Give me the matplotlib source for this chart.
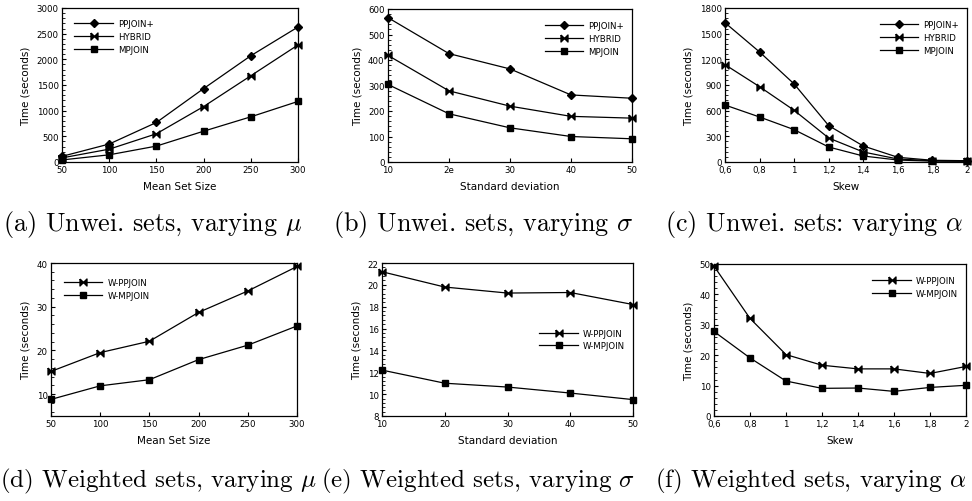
import numpy as np
import matplotlib
matplotlib.use("Agg")
import matplotlib.pyplot as plt
from matplotlib.ticker import AutoMinorLocator

plt.rcParams['font.family'] = ['DejaVu Sans']
plt.rcParams['mathtext.fontset'] = 'cm'

# (a) unweighted, mean set size
mu_x = [50, 100, 150, 200, 250, 300]
a_ppjoin = [110, 350, 770, 1430, 2070, 2630]
a_hybrid = [80, 250, 550, 1080, 1680, 2280]
a_mpjoin = [40, 140, 310, 600, 880, 1180]

# (b) unweighted, standard deviation
sd_x = [10, 20, 30, 40, 50]
sd_labels = ["10", "2e", "30", "40", "50"]
b_ppjoin = [566, 425, 365, 263, 250]
b_hybrid = [418, 279, 219, 179, 172]
b_mpjoin = [304, 189, 134, 100, 91]

# (c) unweighted, skew
sk_x = [0.6, 0.8, 1.0, 1.2, 1.4, 1.6, 1.8, 2.0]
sk_labels = ["0,6", "0,8", "1", "1,2", "1,4", "1,6", "1,8", "2"]
c_ppjoin = [1628, 1286, 912, 425, 187, 55, 20, 15]
c_hybrid = [1138, 880, 604, 280, 117, 35, 15, 12]
c_mpjoin = [666, 526, 378, 175, 70, 23, 10, 8]

# (d) weighted, mean set size
d_wppjoin = [15.2, 19.5, 22.1, 28.7, 33.6, 39.2]
d_wmpjoin = [8.8, 11.9, 13.3, 17.9, 21.2, 25.6]

# (e) weighted, standard deviation
e_labels = ["10", "20", "30", "40", "50"]
e_wppjoin = [21.2, 19.8, 19.25, 19.3, 18.2]
e_wmpjoin = [12.2, 11.0, 10.65, 10.1, 9.5]

# (f) weighted, skew
f_wppjoin = [49.3, 32.1, 20.2, 16.7, 15.5, 15.5, 14.0, 16.3]
f_wmpjoin = [27.8, 19.1, 11.5, 9.1, 9.2, 8.1, 9.4, 10.1]

captions = [
    r"(a) Unwei. sets, varying $\mu$",
    r"(b) Unwei. sets, varying $\sigma$",
    r"(c) Unwei. sets: varying $\alpha$",
    r"(d) Weighted sets, varying $\mu$",
    r"(e) Weighted sets, varying $\sigma$",
    r"(f) Weighted sets, varying $\alpha$",
]

W, H = 972, 502
fig = plt.figure(figsize=(W / 100, H / 100), dpi=100)

def px_axes(x0, y0, x1, y1):
    return fig.add_axes([x0 / W, 1 - y1 / H, (x1 - x0) / W, (y1 - y0) / H])

# bowtie marker for HYBRID
bowtie = [(-1, 1), (0, 0), (1, 1), (1, -1), (0, 0), (-1, -1), (-1, 1)]

def style(ax, xlabel):
    ax.set_xlabel(xlabel, fontsize=7.5, labelpad=5)
    ax.set_ylabel("Time (seconds)", fontsize=7.5, labelpad=4)
    ax.tick_params(labelsize=6.2, direction='in', length=3, width=0.8, pad=2.5)
    ax.tick_params(which='minor', direction='in', length=1.8, width=0.6)
    ax.yaxis.set_minor_locator(AutoMinorLocator(5))
    for s in ax.spines.values():
        s.set_linewidth(0.9)

def line(ax, x, y, m, lab, ms=4.5):
    ax.plot(x, y, color='black', lw=0.9, marker=m, ms=ms, mfc='black',
            mec='black', label=lab, clip_on=False, zorder=3)

def leg(ax, loc, **kw):
    ax.legend(loc=loc, frameon=False, fontsize=6.2, handlelength=4.5,
              handletextpad=0.6, labelspacing=0.45, **kw)

# (a)
ax = px_axes(62, 9, 298, 163)
line(ax, mu_x, a_ppjoin, 'D', 'PPJOIN+', 4)
line(ax, mu_x, a_hybrid, bowtie, 'HYBRID', 5)
line(ax, mu_x, a_mpjoin, 's', 'MPJOIN')
ax.set_xlim(50, 300)
ax.set_ylim(0, 3000)
ax.set_xticks(mu_x)
ax.set_yticks(np.arange(0, 3001, 500))
style(ax, "Mean Set Size")
leg(ax, 'upper left', bbox_to_anchor=(0.02, 0.98))

# (b)
ax = px_axes(388, 10, 632, 163)
line(ax, sd_x, b_ppjoin, 'D', 'PPJOIN+', 4)
line(ax, sd_x, b_hybrid, bowtie, 'HYBRID', 5)
line(ax, sd_x, b_mpjoin, 's', 'MPJOIN')
ax.set_xlim(10, 50)
ax.set_ylim(0, 600)
ax.set_xticks(sd_x, sd_labels)
ax.set_yticks(np.arange(0, 601, 100))
style(ax, "Standard deviation")
leg(ax, 'upper right', bbox_to_anchor=(1.0, 0.97))

# (c)
ax = px_axes(725, 9, 967, 163)
line(ax, sk_x, c_ppjoin, 'D', 'PPJOIN+', 4)
line(ax, sk_x, c_hybrid, bowtie, 'HYBRID', 5)
line(ax, sk_x, c_mpjoin, 's', 'MPJOIN')
ax.set_xlim(0.6, 2.0)
ax.set_ylim(0, 1800)
ax.set_xticks(sk_x, sk_labels)
ax.set_yticks(np.arange(0, 1801, 300))
style(ax, "Skew")
leg(ax, 'upper right', bbox_to_anchor=(1.0, 0.97))

# (d)
ax = px_axes(51, 264, 297, 417)
line(ax, mu_x, d_wppjoin, bowtie, 'W-PPJOIN', 5)
line(ax, mu_x, d_wmpjoin, 's', 'W-MPJOIN')
ax.set_xlim(50, 300)
ax.set_ylim(5, 40)
ax.set_xticks(mu_x)
ax.set_yticks([10, 20, 30, 40])
style(ax, "Mean Set Size")
leg(ax, 'upper left', bbox_to_anchor=(0.02, 0.95))

# (e)
ax = px_axes(382, 264, 633, 417)
line(ax, sd_x, e_wppjoin, bowtie, 'W-PPJOIN', 5)
line(ax, sd_x, e_wmpjoin, 's', 'W-MPJOIN')
ax.set_xlim(10, 50)
ax.set_ylim(8, 22)
ax.set_xticks(sd_x, e_labels)
ax.set_yticks(np.arange(8, 23, 2))
style(ax, "Standard deviation")
leg(ax, 'center right', bbox_to_anchor=(1.0, 0.5))

# (f)
ax = px_axes(714, 265, 966, 417)
line(ax, sk_x, f_wppjoin, bowtie, 'W-PPJOIN', 5)
line(ax, sk_x, f_wmpjoin, 's', 'W-MPJOIN')
ax.set_xlim(0.6, 2.0)
ax.set_ylim(0, 50)
ax.set_xticks(sk_x, sk_labels)
ax.set_yticks(np.arange(0, 51, 10))
style(ax, "Skew")
leg(ax, 'upper right', bbox_to_anchor=(1.0, 0.97))

# captions
cap_pos = [(3, 225, 18.8), (333, 225, 18.8), (665, 225, 18.8),
           (0, 481, 18), (321, 481, 18), (655, 481, 18)]
for (cx, cy, fs), txt in zip(cap_pos, captions):
    fig.text(cx / W, 1 - cy / H, txt, fontsize=fs, family='cmr10',
             ha='left', va='center')

fig.savefig("out.png", dpi=100)
